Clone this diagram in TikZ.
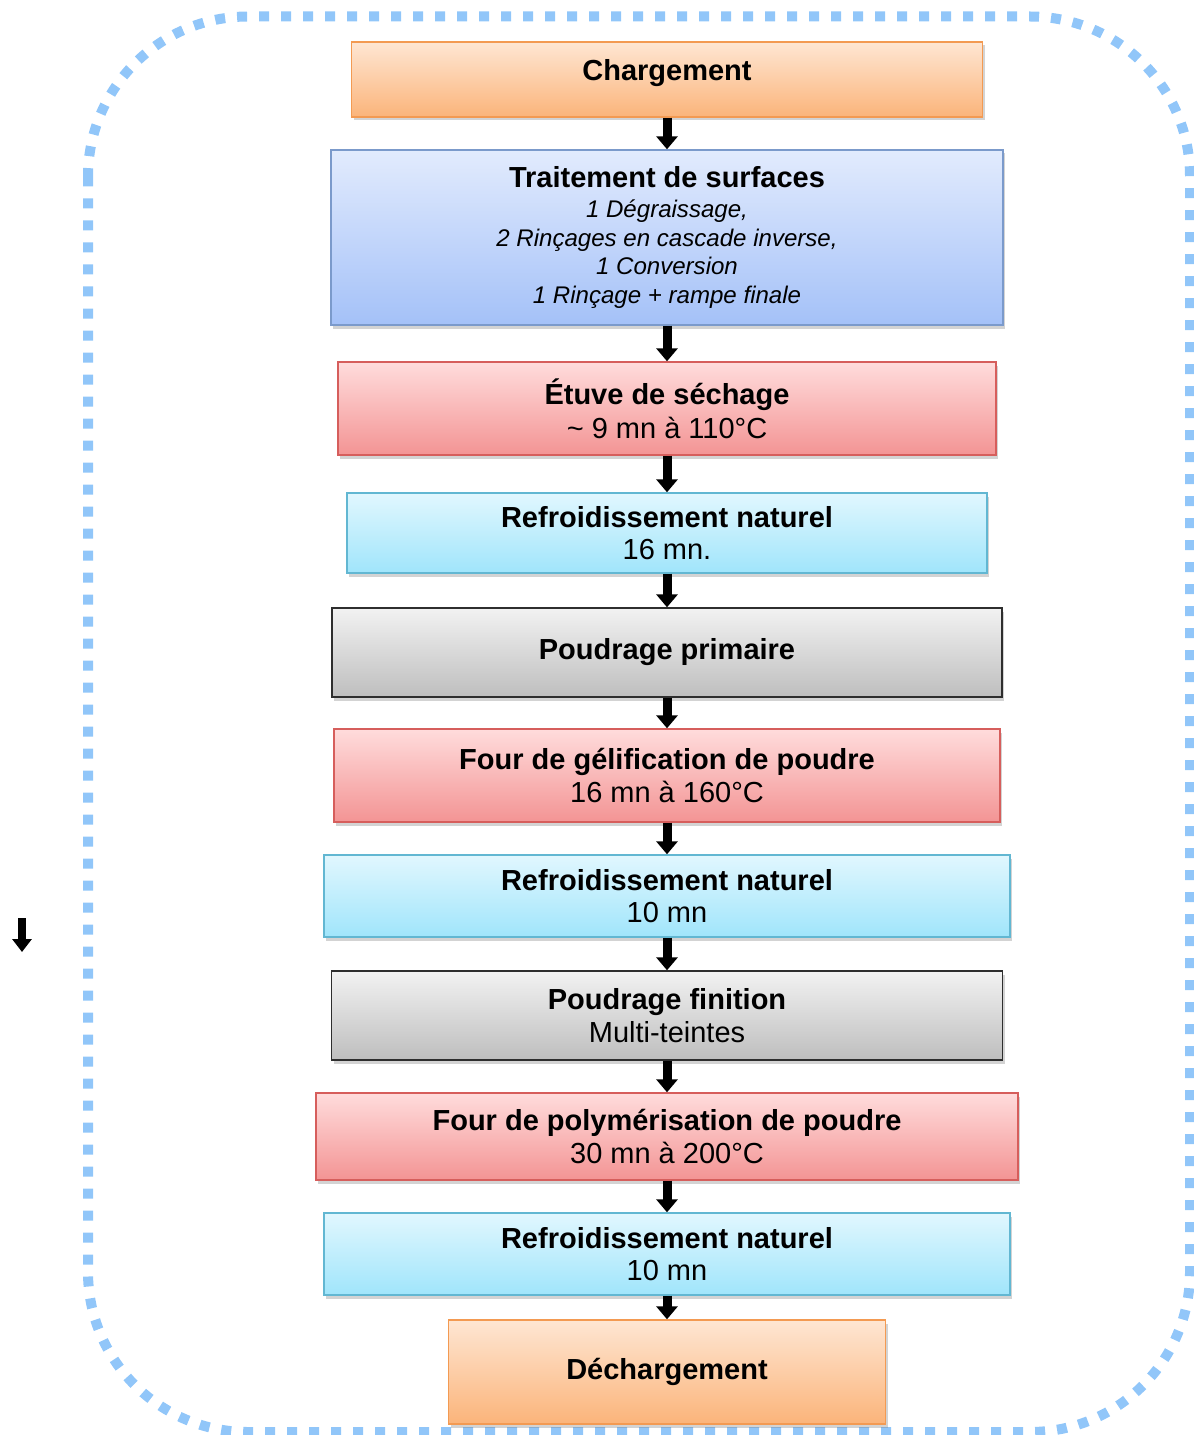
\documentclass[tikz,border=0pt]{standalone}
\usepackage{fontspec}
\setmainfont{Liberation Sans}
\definecolor{OrangeHaut}{HTML}{FEE6D3}
\definecolor{OrangeBas}{HTML}{FBB47A}
\definecolor{OrangeBord}{HTML}{F39A52}
\definecolor{BleuHaut}{HTML}{E2EBFD}
\definecolor{BleuBas}{HTML}{A4C1F8}
\definecolor{BleuBord}{HTML}{7B9ACB}
\definecolor{RougeHaut}{HTML}{FFDCDC}
\definecolor{RougeBas}{HTML}{F39494}
\definecolor{RougeBord}{HTML}{D65E5C}
\definecolor{CyanHaut}{HTML}{E1F7FE}
\definecolor{CyanBas}{HTML}{A0E5FB}
\definecolor{CyanBord}{HTML}{62B7D2}
\definecolor{GrisHaut}{HTML}{F2F2F2}
\definecolor{GrisBas}{HTML}{BEBEBE}
\definecolor{GrisBord}{HTML}{2E2E2E}
\definecolor{Cadre}{HTML}{91C6F9}
\usetikzlibrary{arrows.meta,shadows}

\begin{document}
\begin{tikzpicture}[>={Triangle[width=0.42cm,length=0.26cm]},
    etape/.style={draw,line width=0.8pt,align=center,inner sep=0pt,font=\fontsize{16.5}{18.6}\selectfont,
      drop shadow={shadow xshift=0.04cm,shadow yshift=-0.07cm,opacity=0.35}},
    charge/.style={etape,top color=OrangeHaut,bottom color=OrangeBas,draw=OrangeBord},
    surface/.style={etape,top color=BleuHaut,bottom color=BleuBas,draw=BleuBord,font=\fontsize{16.5}{16.2}\selectfont},
    four/.style={etape,top color=RougeHaut,bottom color=RougeBas,draw=RougeBord,font=\fontsize{16.5}{19.2}\selectfont},
    froid/.style={etape,top color=CyanHaut,bottom color=CyanBas,draw=CyanBord},
    poudre/.style={etape,top color=GrisHaut,bottom color=GrisBas,draw=GrisBord},
    fleche/.style={->,line width=0.18cm}]
  \useasboundingbox (0,0) rectangle (23.88,-28.70);
  % cadre en pointilles
  \draw[Cadre,line width=0.2cm,dash pattern=on 0.2cm off 0.24cm,rounded corners=3.2cm]
    (1.76,-0.33) rectangle (23.8,-28.64);
  % etapes
  \node[charge,minimum width=12.62cm,minimum height=1.5cm,text depth=0.38cm] (charg) at (13.34,-1.59)
    {\textbf{Chargement}};
  \node[surface,minimum width=13.44cm,minimum height=3.5cm] (trait) at (13.34,-4.75)
    {\textbf{Traitement de surfaces}\\[1pt]
     {\fontsize{13.7}{16}\selectfont\itshape 1 Dégraissage,}\\
     {\fontsize{13.7}{16}\selectfont\itshape 2 Rinçages en cascade inverse,}\\
     {\fontsize{13.7}{16}\selectfont\itshape 1 Conversion}\\
     {\fontsize{13.7}{16}\selectfont\itshape 1 Rinçage + rampe finale}};
  \node[four,minimum width=13.16cm,minimum height=1.86cm] (etuve) at (13.34,-8.17)
    {\textbf{Étuve de séchage}\\\textasciitilde{} 9 mn à 110°C};
  \node[froid,minimum width=12.8cm,minimum height=1.6cm] (refr1) at (13.34,-10.66)
    {\textbf{Refroidissement naturel}\\16 mn.};
  \node[poudre,minimum width=13.4cm,minimum height=1.78cm] (poud1) at (13.34,-13.05)
    {\textbf{Poudrage primaire}};
  \node[four,minimum width=13.32cm,minimum height=1.86cm] (gelif) at (13.34,-15.51)
    {\textbf{Four de gélification de poudre}\\16 mn à 160°C};
  \node[froid,minimum width=13.72cm,minimum height=1.64cm] (refr2) at (13.34,-17.92)
    {\textbf{Refroidissement naturel}\\10 mn};
  \node[poudre,minimum width=13.42cm,minimum height=1.78cm] (poud2) at (13.34,-20.31)
    {\textbf{Poudrage finition}\\Multi-teintes};
  \node[four,minimum width=14.04cm,minimum height=1.74cm] (polym) at (13.34,-22.73)
    {\textbf{Four de polymérisation de poudre}\\30 mn à 200°C};
  \node[froid,minimum width=13.72cm,minimum height=1.64cm] (refr3) at (13.34,-25.08)
    {\textbf{Refroidissement naturel}\\10 mn};
  \node[charge,minimum width=8.74cm,minimum height=2.08cm] (decharg) at (13.34,-27.44)
    {\textbf{Déchargement}};
  % fleches
  \draw[fleche] (charg) -- (trait);
  \draw[fleche] (trait) -- (etuve);
  \draw[fleche] (etuve) -- (refr1);
  \draw[fleche] (refr1) -- (poud1);
  \draw[fleche] (poud1) -- (gelif);
  \draw[fleche] (gelif) -- (refr2);
  \draw[fleche] (refr2) -- (poud2);
  \draw[fleche] (poud2) -- (polym);
  \draw[fleche] (polym) -- (refr3);
  \draw[fleche] (refr3) -- (decharg);
  % petite fleche a gauche
  \coordinate (fa) at (0.44,-18.36);
  \coordinate (fb) at (0.44,-19.04);
  \draw[-{Triangle[width=0.38cm,length=0.26cm]},line width=0.17cm] (fa) -- (fb);
\end{tikzpicture}
\end{document}
